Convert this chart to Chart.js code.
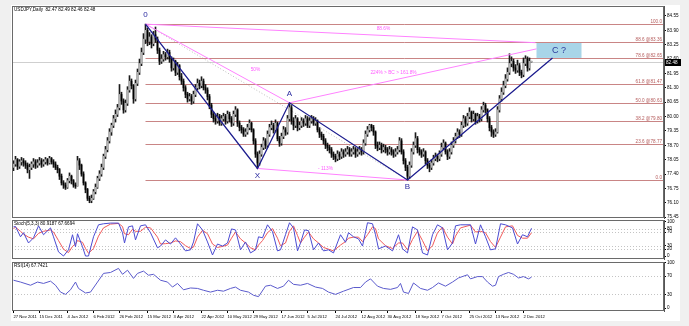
<!DOCTYPE html>
<html>
<head>
<meta charset="utf-8">
<script src="https://cdn.jsdelivr.net/npm/chart.js@4.4.1/dist/chart.umd.min.js"></script>
<style>
body { margin:0; background:#f0f0f0; width:689px; height:326px; overflow:hidden; position:relative; }
#sheet { position:absolute; left:11px; top:5px; width:669px; height:316px; background:#fff; }
canvas { position:absolute; left:0; }
#main { top:0; }
#stoch { top:219px; }
#rsi { top:260px; }
</style>
</head>
<body>
<div id="sheet"></div>
<canvas id="main" width="689" height="219"></canvas>
<canvas id="stoch" width="689" height="41"></canvas>
<canvas id="rsi" width="689" height="66"></canvas>
<script>
// USDJPY daily, one value per bar (index 0 = 27 Nov 2011)
var closes = [
 77.85,78.05,77.75,77.95,78.00,77.90,77.80,77.60,77.70,77.85,
 77.95,77.80,77.90,78.00,77.85,77.95,78.05,77.90,78.10,77.95,
 77.85,77.70,77.60,77.30,77.00,76.90,76.80,77.10,77.30,77.10,
 76.90,76.85,78.00,77.80,77.40,77.00,76.70,76.30,76.20,76.30,
 76.60,76.80,77.20,77.40,77.70,78.20,78.50,78.90,79.30,79.60,
 79.90,80.10,80.40,81.00,80.70,80.30,80.60,81.20,81.60,81.40,
 80.80,81.50,82.00,82.40,82.90,83.50,83.90,83.40,83.60,83.30,
 83.70,83.50,83.00,82.50,82.60,82.80,82.70,82.90,82.60,82.20,
 82.50,82.00,82.30,81.80,81.60,81.30,81.00,80.80,80.90,80.70,
 81.00,81.30,81.50,81.40,81.60,81.30,81.20,80.90,80.50,80.10,
 79.90,79.80,80.00,79.70,79.90,80.00,79.80,80.10,79.90,79.70,
 80.10,80.30,79.70,79.50,79.40,79.20,79.30,79.50,79.70,79.40,
 78.90,78.30,77.90,78.30,78.60,78.90,78.70,79.20,79.50,79.60,
 79.40,79.70,79.00,78.80,79.10,79.40,79.30,79.90,80.40,79.80,
 79.60,79.90,79.50,79.60,79.80,79.70,79.90,79.60,79.80,79.90,
 79.70,79.80,79.40,79.20,79.10,78.90,78.70,78.60,78.50,78.30,
 78.20,78.10,78.30,78.20,78.40,78.30,78.40,78.50,78.30,78.40,
 78.50,78.30,78.40,78.50,78.40,78.80,79.20,79.40,79.60,79.50,
 79.30,78.70,78.60,78.70,78.50,78.60,78.50,78.40,78.50,78.40,
 78.30,78.40,78.50,78.90,78.40,78.00,77.70,77.30,77.80,78.40,
 78.70,79.00,78.50,78.40,78.30,78.40,78.00,77.80,77.70,77.90,
 78.10,78.20,78.10,78.30,78.60,78.80,78.40,78.20,78.40,78.70,
 78.90,79.10,79.30,79.20,79.60,79.90,79.70,80.00,80.20,79.90,
 80.10,79.80,80.00,79.90,80.30,80.50,80.30,79.90,79.50,79.30,
 79.20,79.30,80.30,80.80,81.10,81.40,81.70,82.00,82.40,82.50,
 82.20,82.10,82.30,82.00,81.90,82.40,82.60,82.20,82.50,82.48
];
var opens = [
 77.70,77.85,78.05,77.75,77.95,78.00,77.90,77.80,77.60,77.70,
 77.85,77.95,77.80,77.90,78.00,77.85,77.95,78.05,77.90,78.10,
 77.95,77.85,77.70,77.60,77.30,77.00,76.90,76.80,77.10,77.30,
 77.10,76.90,76.85,78.00,77.80,77.40,77.00,76.70,76.30,76.20,
 76.30,76.60,76.80,77.20,77.40,77.70,78.20,78.50,78.90,79.30,
 79.60,79.90,80.10,80.40,81.00,80.70,80.30,80.60,81.20,81.60,
 81.40,80.80,81.50,82.00,82.40,82.90,83.50,83.90,83.40,83.60,
 83.30,83.70,83.50,83.00,82.50,82.60,82.80,82.70,82.90,82.60,
 82.20,82.50,82.00,82.30,81.80,81.60,81.30,81.00,80.80,80.90,
 80.70,81.00,81.30,81.50,81.40,81.60,81.30,81.20,80.90,80.50,
 80.10,79.90,79.80,80.00,79.70,79.90,80.00,79.80,80.10,79.90,
 79.70,80.10,80.30,79.70,79.50,79.40,79.20,79.30,79.50,79.70,
 79.40,78.90,78.30,77.90,78.30,78.60,78.90,78.70,79.20,79.50,
 79.60,79.40,79.70,79.00,78.80,79.10,79.40,79.30,79.90,80.40,
 79.80,79.60,79.90,79.50,79.60,79.80,79.70,79.90,79.60,79.80,
 79.90,79.70,79.80,79.40,79.20,79.10,78.90,78.70,78.60,78.50,
 78.30,78.20,78.10,78.30,78.20,78.40,78.30,78.40,78.50,78.30,
 78.40,78.50,78.30,78.40,78.50,78.40,78.80,79.20,79.40,79.60,
 79.50,79.30,78.70,78.60,78.70,78.50,78.60,78.50,78.40,78.50,
 78.40,78.30,78.40,78.50,78.90,78.40,78.00,77.70,77.30,77.80,
 78.40,78.70,79.00,78.50,78.40,78.30,78.40,78.00,77.80,77.70,
 77.90,78.10,78.20,78.10,78.30,78.60,78.80,78.40,78.20,78.40,
 78.70,78.90,79.10,79.30,79.20,79.60,79.90,79.70,80.00,80.20,
 79.90,80.10,79.80,80.00,79.90,80.30,80.50,80.30,79.90,79.50,
 79.30,79.20,79.30,80.30,80.80,81.10,81.40,81.70,82.00,82.40,
 82.50,82.20,82.10,82.30,82.00,81.90,82.40,82.60,82.20,82.47
];
var highs = [
 78.00,78.20,78.10,78.05,78.15,78.10,78.00,77.90,77.85,77.95,
 78.10,78.05,78.05,78.15,78.10,78.05,78.15,78.10,78.20,78.15,
 78.05,77.95,77.80,77.65,77.40,77.10,77.00,77.20,77.45,77.35,
 77.15,77.00,78.20,78.10,77.85,77.50,77.05,76.75,76.40,76.45,
 76.70,76.95,77.30,77.55,77.85,78.30,78.65,79.05,79.45,79.70,
 80.05,80.30,80.55,81.45,81.10,80.80,80.75,81.35,81.85,81.70,
 81.45,81.65,82.15,82.60,83.10,83.75,84.18,84.00,83.80,83.70,
 83.85,84.05,83.60,83.10,82.80,82.95,82.90,83.05,83.00,82.70,
 82.65,82.55,82.45,82.35,81.95,81.70,81.40,81.10,81.05,81.00,
 81.15,81.45,81.70,81.65,81.80,81.70,81.45,81.30,81.00,80.60,
 80.20,80.05,80.15,80.10,80.05,80.15,80.10,80.25,80.20,80.00,
 80.25,80.45,80.35,79.80,79.60,79.50,79.45,79.65,79.85,79.75,
 79.45,79.00,78.40,78.45,78.75,79.05,79.00,79.35,79.65,79.80,
 79.70,79.85,79.75,79.10,79.25,79.55,79.50,80.05,80.62,80.50,
 79.95,80.05,79.95,79.75,79.95,79.90,80.05,80.00,79.95,80.05,
 80.00,79.95,79.85,79.50,79.30,79.20,79.00,78.80,78.70,78.60,
 78.40,78.30,78.45,78.40,78.55,78.50,78.55,78.65,78.60,78.55,
 78.65,78.60,78.55,78.65,78.60,78.95,79.35,79.55,79.65,79.65,
 79.60,79.35,78.85,78.85,78.80,78.75,78.70,78.60,78.65,78.60,
 78.50,78.55,78.65,79.05,79.00,78.50,78.10,77.80,77.95,78.55,
 78.85,79.27,79.10,78.60,78.50,78.55,78.45,78.10,77.90,78.05,
 78.25,78.35,78.30,78.45,78.80,78.95,78.85,78.50,78.55,78.85,
 79.05,79.25,79.45,79.40,79.75,80.05,80.00,80.15,80.40,80.25,
 80.25,80.15,80.15,80.10,80.45,80.65,80.60,80.35,80.00,79.60,
 79.40,79.45,80.45,80.95,81.30,81.60,81.90,82.20,82.84,82.70,
 82.60,82.35,82.55,82.40,82.10,82.65,82.75,82.70,82.65,82.49
];
var lows = [
 77.55,77.75,77.60,77.65,77.80,77.75,77.65,77.45,77.20,77.60,
 77.70,77.65,77.70,77.80,77.70,77.75,77.85,77.80,77.85,77.85,
 77.70,77.60,77.45,77.15,76.90,76.75,76.70,76.75,77.00,76.95,
 76.80,76.75,76.85,77.60,77.30,76.90,76.55,76.20,76.10,76.10,
 76.25,76.50,76.75,77.10,77.30,77.60,78.10,78.40,78.80,79.15,
 79.50,79.75,80.00,80.30,80.55,80.15,80.20,80.50,81.10,81.25,
 80.60,80.70,81.40,81.90,82.30,82.80,83.30,83.20,83.25,83.10,
 83.20,83.35,82.85,82.35,82.40,82.50,82.55,82.60,82.45,82.05,
 82.10,81.85,81.90,81.65,81.45,81.15,80.85,80.65,80.70,80.55,
 80.60,80.90,81.20,81.25,81.30,81.20,81.05,80.75,80.35,79.95,
 79.75,79.65,79.70,79.60,79.60,79.80,79.65,79.70,79.75,79.55,
 79.60,80.00,79.55,79.35,79.25,79.10,79.10,79.20,79.40,79.30,
 78.75,78.15,77.65,77.80,78.20,78.50,78.55,78.60,79.10,79.40,
 79.25,79.30,78.90,78.65,78.70,79.00,79.15,79.20,79.80,79.65,
 79.40,79.50,79.35,79.40,79.50,79.55,79.60,79.50,79.50,79.70,
 79.60,79.60,79.30,79.05,78.95,78.75,78.55,78.45,78.35,78.15,
 78.05,77.95,78.00,78.05,78.10,78.15,78.20,78.30,78.20,78.20,
 78.30,78.15,78.20,78.30,78.25,78.30,78.70,79.10,79.30,79.35,
 79.15,78.55,78.45,78.50,78.35,78.40,78.35,78.25,78.30,78.25,
 78.15,78.20,78.30,78.40,78.30,77.85,77.55,77.13,77.20,77.70,
 78.30,78.60,78.35,78.25,78.15,78.20,77.85,77.65,77.50,77.60,
 77.80,78.00,77.95,78.00,78.20,78.50,78.30,78.05,78.10,78.30,
 78.60,78.80,79.00,79.05,79.10,79.50,79.55,79.60,79.90,79.75,
 79.80,79.65,79.70,79.75,79.80,80.20,80.15,79.75,79.35,79.10,
 79.05,79.10,79.25,80.20,80.70,81.00,81.30,81.60,81.90,82.25,
 82.05,81.95,82.00,81.85,81.75,81.80,82.30,82.05,82.10,82.46
];

var stochIdx = [
 0,1,3.5,5,7.5,10,12.5,15,18.5,20,
 22.5,25,27.5,29.5,31,32,34.5,36,37.5,40,
 42.5,45,48.5,52.5,54.5,55.5,57.5,59.5,61,63.5,
 66,68.5,72,73.5,76,78.5,81,83.5,86,88.5,
 90,92,94.5,97,99.5,102,104.5,107,109,111,
 113.5,116,118.5,121,122.5,124.5,127,129.5,132,133.5,
 136,138,140,142,143.5,145.5,147.5,150,152.5,155,
 157.5,160,163.5,166,167.5,170,172.5,174.5,177,179.5,
 181,182.5,186,189.5,192.5,194.5,197,199.5,202,204.5,
 207,209.5,212,214.5,217,219.5,221,223.5,228.5,231,
 233.5,236,238.5,241,243.5,246,249.5,252,254.5,257,
 259
];
var stochK = [
 85,86,56,68,38,53,88,62,82,56,
 12,0,18,62,27,65,27,0,0,56,
 91,94,96,96,68,38,85,88,47,88,
 91,68,24,29,47,35,53,35,15,18,
 41,94,76,41,3,35,29,38,79,76,
 18,41,9,18,56,53,91,71,15,18,
 62,97,82,15,38,76,74,18,38,15,
 18,9,62,40,68,56,50,29,97,94,
 62,21,29,15,62,21,9,85,76,9,
 3,62,91,82,18,38,88,91,91,35,
 91,56,18,21,94,91,82,35,62,56,
 80.92
];
var stochD = [
 80,84,72,64,55,50,66,72,76,70,
 45,20,10,28,35,45,40,22,8,22,
 58,82,93,95,86,65,62,78,72,72,
 84,82,55,35,36,38,44,42,30,22,
 26,55,75,65,35,25,28,32,52,70,
 50,38,24,18,32,45,68,80,52,30,
 38,72,88,60,38,55,70,50,38,25,
 20,15,32,42,52,55,55,42,62,85,
 80,50,30,22,38,38,18,48,72,45,
 15,30,68,84,55,35,58,82,90,70,
 72,68,42,25,55,85,88,60,52,52,
 67.67
];

// RSI(14)
var rsiIdx = [
 0,3.5,8.5,12,15,18.5,21,23.5,26,28.5,
 31,32.5,36,38.5,42,45,48.5,52.5,54.5,57,
 60,62,65,67.5,70,73.5,77,79.5,82,85,
 88.5,92,95,98.5,102,105,108.5,111,113.5,117.5,
 120,122.5,126,128.5,132,135,137.5,140,143.5,147,
 151,154.5,157.5,161,165,170,173.5,176,178.5,182,
 185,188.5,192,193.5,195,197.5,200,203.5,207,209.5,
 212.5,216,219.5,222.5,227,228.5,232,234.5,237,239.5,
 241,242.5,245,247.5,250,252.5,255,257.5,259
];
var rsiVals = [
 61,57,50,57,54,59,50,35,30,40,
 57,43,33,35,57,76,78,87,74,83,
 65,76,81,72,74,61,57,46,54,40,
 44,43,39,35,39,37,43,46,39,35,
 28,25,48,50,43,48,61,52,50,54,
 46,43,35,30,37,45,45,57,64,48,
 43,41,45,54,35,32,55,43,39,45,
 55,48,57,66,73,64,69,69,57,48,
 50,69,74,78,74,66,69,64,67.74
];

var priceTicks = [84.55,83.90,83.25,82.60,81.95,81.30,80.65,80.00,79.35,78.70,78.05,77.40,76.75,76.10,75.45];
var xTickIdx = [0,13,27,40,53,67,80,94,107,120,134,147,161,174,187,201,214,228,241,255];
var xTickLabels = ['27 Nov 2011','15 Dec 2011','4 Jan 2012','6 Feb 2012','26 Feb 2012','15 Mar 2012','3 Apr 2012',
  '22 Apr 2012','10 May 2012','29 May 2012','17 Jun 2012','5 Jul 2012','24 Jul 2012','12 Aug 2012','30 Aug 2012',
  '18 Sep 2012','7 Oct 2012','25 Oct 2012','13 Nov 2012','2 Dec 2012'];

// fibonacci retracement from B (0.0) to 0 (100.0)
var fibPrices = [84.18,83.36,82.65,81.47,80.63,79.80,78.77,77.13];
var fibLabels = ['100.0','88.6 @83.36','78.6 @82.65','61.8 @81.47','50.0 @80.63','38.2 @79.80','23.6 @78.77','0.0'];
var fibStart = 66;

// harmonic pattern points
var patNames = ['0','X','A','B'];
var patIdx = [66,122,138,197];
var patPrice = [84.18,77.65,80.62,77.13];
var cEnd = [269.5,82.65];
var cBox = [261.5,284,82.65,83.36];
var pinkLines = [[66,84.18,261,83.34],[66,84.18,138,80.62],[122,77.65,197,77.13],[138,80.62,261.5,83.06]];
var pinkText = ['88.6%','50%','- 113%','224% > BC > 161.8%'];
var pinkTextAt = [[185,83.96],[121,82.11],[156,77.64],[190,81.98]];
var lastPrice = 82.48;

var FONT = '"Liberation Sans", Arial, sans-serif';
var xMin = -0.75, xMax = 325.25;

function hiddenX() {
  return { type:'linear', min:xMin, max:xMax, offset:false, display:false };
}
function rightY(min, max, ticks, fmt) {
  return {
    position:'right', min:min, max:max,
    afterBuildTicks: function(s){ s.ticks = ticks.map(function(v){ return {value:v}; }); },
    afterFit: function(s){ s.width = 25; s.paddingTop = 0; s.paddingBottom = 0; },
    ticks:{ font:{size:4.6, family:FONT}, color:'#000', padding:1, autoSkip:false, callback: fmt },
    grid:{ display:true, drawOnChartArea:false, drawTicks:true, tickLength:2, color:'#000' },
    border:{ display:true, color:'#555' }
  };
}
function frame(chart) {
  var a = chart.chartArea, ctx = chart.ctx;
  ctx.save();
  ctx.strokeStyle = '#6a6a6a'; ctx.lineWidth = 1;
  ctx.strokeRect(a.left + 0.5, a.top + 0.5, a.right - a.left - 1, a.bottom - a.top - 1);
  ctx.restore();
}

var wickData = [], bodyData = [], bodyColors = [];
for (var i = 0; i < closes.length; i++) {
  wickData.push({x:i, y:[lows[i], highs[i]]});
  bodyData.push({x:i, y:[opens[i], closes[i]]});
  bodyColors.push(closes[i] >= opens[i] ? '#b4b4b4' : '#000000');
}

var mainDecor = {
  id:'mainDecor',
  beforeDatasetsDraw: function(chart) {
    var ctx = chart.ctx, a = chart.chartArea, x = chart.scales.x, y = chart.scales.y;
    ctx.save();
    ctx.beginPath(); ctx.rect(a.left, a.top, a.right - a.left, a.bottom - a.top); ctx.clip();
    // last price line
    var ly = Math.round(y.getPixelForValue(lastPrice)) + 0.5;
    ctx.strokeStyle = '#cfcfcf'; ctx.lineWidth = 1;
    ctx.beginPath(); ctx.moveTo(a.left, ly); ctx.lineTo(a.right, ly); ctx.stroke();
    // target box
    var bx0 = x.getPixelForValue(cBox[0]), bx1 = x.getPixelForValue(cBox[1]);
    var by0 = y.getPixelForValue(cBox[3]), by1 = y.getPixelForValue(cBox[2]);
    ctx.fillStyle = '#a8d5e8';
    ctx.fillRect(bx0, by0, bx1 - bx0, by1 - by0);
    // fib diagonal (dotted)
    ctx.strokeStyle = '#bdbdbd'; ctx.setLineDash([1,2]);
    ctx.beginPath();
    ctx.moveTo(x.getPixelForValue(patIdx[0]), y.getPixelForValue(patPrice[0]));
    ctx.lineTo(x.getPixelForValue(patIdx[3]), y.getPixelForValue(patPrice[3]));
    ctx.stroke();
    ctx.setLineDash([]);
    // fib levels
    ctx.font = '4.6px ' + FONT; ctx.textAlign = 'right'; ctx.textBaseline = 'bottom';
    fibPrices.forEach(function(p, k) {
      var yy = Math.round(y.getPixelForValue(p)) + 0.5;
      ctx.strokeStyle = '#c98585';
      ctx.beginPath(); ctx.moveTo(x.getPixelForValue(fibStart), yy); ctx.lineTo(a.right, yy); ctx.stroke();
      ctx.fillStyle = '#b45a5a';
      ctx.fillText(fibLabels[k], a.right - 2, yy - 0.5);
    });
    ctx.restore();
  },
  afterDatasetsDraw: function(chart) {
    var ctx = chart.ctx, a = chart.chartArea, x = chart.scales.x, y = chart.scales.y;
    function X(v){ return x.getPixelForValue(v); }
    function Y(v){ return y.getPixelForValue(v); }
    ctx.save();
    ctx.beginPath(); ctx.rect(a.left, a.top, a.right - a.left, a.bottom - a.top); ctx.clip();
    // pink projection lines
    ctx.strokeStyle = '#ff82ff'; ctx.lineWidth = 1;
    pinkLines.forEach(function(l) {
      ctx.beginPath(); ctx.moveTo(X(l[0]), Y(l[1])); ctx.lineTo(X(l[2]), Y(l[3])); ctx.stroke();
    });
    ctx.fillStyle = '#ff5cff'; ctx.font = '4.8px ' + FONT; ctx.textAlign = 'center'; ctx.textBaseline = 'middle';
    pinkText.forEach(function(t, k) { ctx.fillText(t, X(pinkTextAt[k][0]), Y(pinkTextAt[k][1])); });
    // blue pattern legs 0-X-A-B-C
    ctx.strokeStyle = '#1c1c8e'; ctx.lineWidth = 1.3;
    ctx.beginPath();
    ctx.moveTo(X(patIdx[0]), Y(patPrice[0]));
    for (var k = 1; k < patIdx.length; k++) ctx.lineTo(X(patIdx[k]), Y(patPrice[k]));
    ctx.lineTo(X(cEnd[0]), Y(cEnd[1]));
    ctx.stroke();
    // point names
    ctx.fillStyle = '#2b2ba0'; ctx.font = '8px ' + FONT;
    var offs = [-9, 7, -9, 7];
    patNames.forEach(function(n, k) { ctx.fillText(n, X(patIdx[k]), Y(patPrice[k]) + offs[k]); });
    ctx.fillStyle = '#2b3a9c'; ctx.font = '9px ' + FONT;
    ctx.fillText('C ?', (X(cBox[0]) + X(cBox[1])) / 2, (Y(cBox[2]) + Y(cBox[3])) / 2);
    ctx.restore();
  },
  afterDraw: function(chart) {
    var ctx = chart.ctx, a = chart.chartArea, y = chart.scales.y;
    frame(chart);
    ctx.save();
    ctx.fillStyle = '#000'; ctx.font = '4.6px ' + FONT; ctx.textAlign = 'left'; ctx.textBaseline = 'middle';
    ctx.fillText('USDJPY,Daily  82.47 82.49 82.46 82.48', a.left + 2, a.top + 4);
    var ly = Math.round(y.getPixelForValue(lastPrice));
    ctx.fillRect(a.right + 1, ly - 3, 16, 7);
    ctx.fillStyle = '#fff';
    ctx.fillText(lastPrice.toFixed(2), a.right + 2, ly + 0.5);
    ctx.restore();
  }
};

new Chart(document.getElementById('main'), {
  type:'bar',
  data:{ datasets:[
    { data:wickData, backgroundColor:'#1a1a1a', barThickness:1, grouped:false, borderWidth:0, order:2 },
    { data:bodyData, backgroundColor:bodyColors, barThickness:1, grouped:false, borderWidth:0, minBarLength:1, order:1 }
  ]},
  options:{
    responsive:false, animation:false, events:[],
    layout:{ padding:{ left:12, top:6, right:0, bottom:1 } },
    plugins:{ legend:{display:false}, tooltip:{enabled:false} },
    scales:{
      x: hiddenX(),
      y: rightY(75.41, 85.0, priceTicks, function(v){ return Number(v).toFixed(2); })
    }
  },
  plugins:[mainDecor]
});

function levelPlugin(id, levels, title) {
  return {
    id:id,
    beforeDatasetsDraw: function(chart) {
      var ctx = chart.ctx, a = chart.chartArea, y = chart.scales.y;
      ctx.save();
      ctx.strokeStyle = '#c4c4c4'; ctx.lineWidth = 1; ctx.setLineDash([1,2]);
      levels.forEach(function(v) {
        var yy = Math.round(y.getPixelForValue(v)) + 0.5;
        ctx.beginPath(); ctx.moveTo(a.left, yy); ctx.lineTo(a.right, yy); ctx.stroke();
      });
      ctx.restore();
    },
    afterDraw: function(chart) {
      var ctx = chart.ctx, a = chart.chartArea;
      frame(chart);
      ctx.save();
      ctx.fillStyle = '#000'; ctx.font = '4.6px ' + FONT; ctx.textBaseline = 'middle';
      ctx.fillText(title, a.left + 2, a.top + 4);
      ctx.restore();
    }
  };
}

function pts(idx, vals) {
  return idx.map(function(v, k){ return {x:v, y:vals[k]}; });
}

new Chart(document.getElementById('stoch'), {
  type:'line',
  data:{ datasets:[
    { data:pts(stochIdx, stochK), borderColor:'#4b4bd2', borderWidth:1, pointRadius:0, tension:0 },
    { data:pts(stochIdx, stochD), borderColor:'#f05a5a', borderWidth:1, pointRadius:0, tension:0 }
  ]},
  options:{
    responsive:false, animation:false, events:[],
    layout:{ padding:{ left:12, top:1, right:0, bottom:1 } },
    plugins:{ legend:{display:false}, tooltip:{enabled:false} },
    scales:{
      x: hiddenX(),
      y: rightY(-8.7, 105, [100,80,70,30,20,0], function(v){ return v; })
    }
  },
  plugins:[levelPlugin('stochLv', [80,70,30,20], 'Stoch(5,3,3) 80.9187 67.6694')]
});

new Chart(document.getElementById('rsi'), {
  type:'line',
  data:{ datasets:[
    { data:pts(rsiIdx, rsiVals), borderColor:'#5a5acc', borderWidth:1, pointRadius:0, tension:0 }
  ]},
  options:{
    responsive:false, animation:false, events:[],
    layout:{ padding:{ left:12, top:2, right:0, bottom:0 } },
    plugins:{ legend:{display:false}, tooltip:{enabled:false} },
    scales:{
      x:{
        type:'linear', min:xMin, max:xMax, offset:false,
        afterBuildTicks: function(s){ s.ticks = xTickIdx.map(function(v){ return {value:v}; }); },
        afterFit: function(s){ s.height = 15; s.paddingLeft = 0; s.paddingRight = 0; },
        ticks:{ autoSkip:false, maxRotation:0, minRotation:0, align:'start', padding:1,
          font:{size:4.2, family:FONT}, color:'#000',
          callback: function(v, k){ return xTickLabels[k]; } },
        grid:{ display:true, drawOnChartArea:false, drawTicks:true, tickLength:2, color:'#000' },
        border:{ display:false }
      },
      y: rightY(-6.5, 101, [100,70,30,0], function(v){ return v; })
    }
  },
  plugins:[levelPlugin('rsiLv', [70,30], 'RSI(14) 67.7421')]
});
</script>
</body>
</html>
